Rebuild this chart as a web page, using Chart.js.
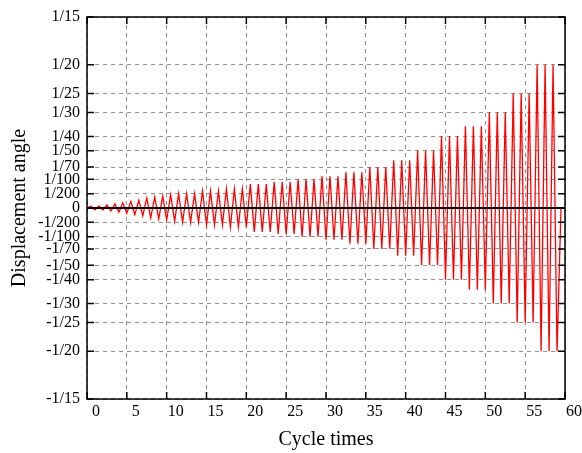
<!DOCTYPE html>
<html>
<head>
<meta charset="utf-8">
<script src="https://cdn.jsdelivr.net/npm/chart.js@4"></script>
<style>
  body { margin: 0; background: #fff; }
</style>
</head>
<body>
<canvas id="loadChart" width="582" height="453"></canvas>
<script>
// drift angle reached in each cycle, written as the n of 1/n
const cycleAngles = [
  1600, 1400, 950, 700, 550, 430, 370, 290, 260, 240, 215,
  200, 200, 200,
  170, 170, 170,
  150, 150, 150,
  120, 120, 120,
  110, 110, 110,
  100, 100, 100,
  90, 90, 90,
  80, 80, 80,
  70, 70, 70,
  60, 60, 60,
  50, 50, 50,
  40, 40, 40,
  35, 35, 35,
  30, 30, 30,
  25, 25, 25,
  20, 20, 20
];

const yTickLabels = ['1/15', '1/20', '1/25', '1/30', '1/40', '1/50', '1/70', '1/100', '1/200', '0',
  '-1/200', '-1/100', '-1/70', '-1/50', '-1/40', '-1/30', '-1/25', '-1/20', '-1/15'];

const xMin = 0, xMax = 60, xStep = 5;

function fracValue(s) {
  if (s === '0') return 0;
  const sign = s[0] === '-' ? -1 : 1;
  const parts = s.replace('-', '').split('/');
  return sign * Number(parts[0]) / Number(parts[1]);
}
const yTickValues = yTickLabels.map(fracValue);

// zigzag: up at half cycle, down at end of cycle
const points = [{x: 0, y: 0}];
cycleAngles.forEach((n, i) => {
  points.push({x: i + 0.5, y: 1 / n});
  points.push({x: i + 1, y: -1 / n});
});
points.push({x: cycleAngles.length + 0.5, y: 0});

const serif = "'Liberation Serif', 'Times New Roman', serif";

// gnuplot style frame, inward tics and zero line
const frame = {
  id: 'frame',
  afterDatasetsDraw(chart) {
    const {ctx, chartArea: a, scales: {x, y}} = chart;
    ctx.save();
    ctx.strokeStyle = '#000';
    ctx.lineWidth = 2;
    const y0 = y.getPixelForValue(0);
    ctx.beginPath();
    ctx.moveTo(a.left, y0);
    ctx.lineTo(a.right, y0);
    ctx.stroke();

    ctx.lineWidth = 1.5;
    ctx.beginPath();
    y.ticks.forEach(t => {
      const p = y.getPixelForValue(t.value);
      ctx.moveTo(a.left, p); ctx.lineTo(a.left + 7, p);
      ctx.moveTo(a.right, p); ctx.lineTo(a.right - 7, p);
    });
    x.ticks.forEach(t => {
      const p = x.getPixelForValue(t.value);
      ctx.moveTo(p, a.bottom); ctx.lineTo(p, a.bottom - 7);
      ctx.moveTo(p, a.top); ctx.lineTo(p, a.top + 7);
    });
    ctx.stroke();
    ctx.strokeRect(a.left, a.top, a.right - a.left, a.bottom - a.top);
    ctx.restore();
  }
};

new Chart(document.getElementById('loadChart'), {
  type: 'line',
  data: {
    datasets: [{
      data: points,
      borderColor: '#ff0000',
      borderWidth: 1.3,
      pointRadius: 0,
      tension: 0,
      fill: false
    }]
  },
  options: {
    responsive: false,
    animation: false,
    devicePixelRatio: 1,
    layout: { padding: { top: 17, right: 17, left: 0, bottom: 0 } },
    plugins: { legend: { display: false }, tooltip: { enabled: false } },
    scales: {
      x: {
        type: 'linear',
        min: xMin,
        max: xMax,
        afterFit(scale) { scale.height = 54; },
        ticks: {
          stepSize: xStep,
          autoSkip: false,
          maxRotation: 0,
          padding: 3,
          labelOffset: 9,
          color: '#000',
          font: { family: serif, size: 16 }
        },
        grid: { color: '#909090', lineWidth: 1, drawTicks: false },
        border: { display: false, dash: [4, 4] },
        title: {
          display: true,
          text: 'Cycle times',
          color: '#000',
          font: { family: serif, size: 20 },
          padding: { top: 0, bottom: 1 }
        }
      },
      y: {
        min: -1 / 15,
        max: 1 / 15,
        afterFit(scale) { scale.width = 87; },
        afterBuildTicks(scale) {
          scale.ticks = yTickValues.slice().sort((a, b) => a - b).map(v => ({value: v}));
        },
        ticks: {
          autoSkip: false,
          padding: 7,
          color: '#000',
          font: { family: serif, size: 16 },
          callback(value) {
            const i = yTickValues.findIndex(v => Math.abs(v - value) < 1e-9);
            return i >= 0 ? yTickLabels[i] : '';
          }
        },
        grid: { color: '#909090', lineWidth: 1, drawTicks: false },
        border: { display: false, dash: [4, 4] },
        title: {
          display: true,
          text: 'Displacement angle',
          color: '#000',
          font: { family: serif, size: 20 },
          padding: { top: 8, bottom: 0 }
        }
      }
    }
  },
  plugins: [frame]
});
</script>
</body>
</html>
